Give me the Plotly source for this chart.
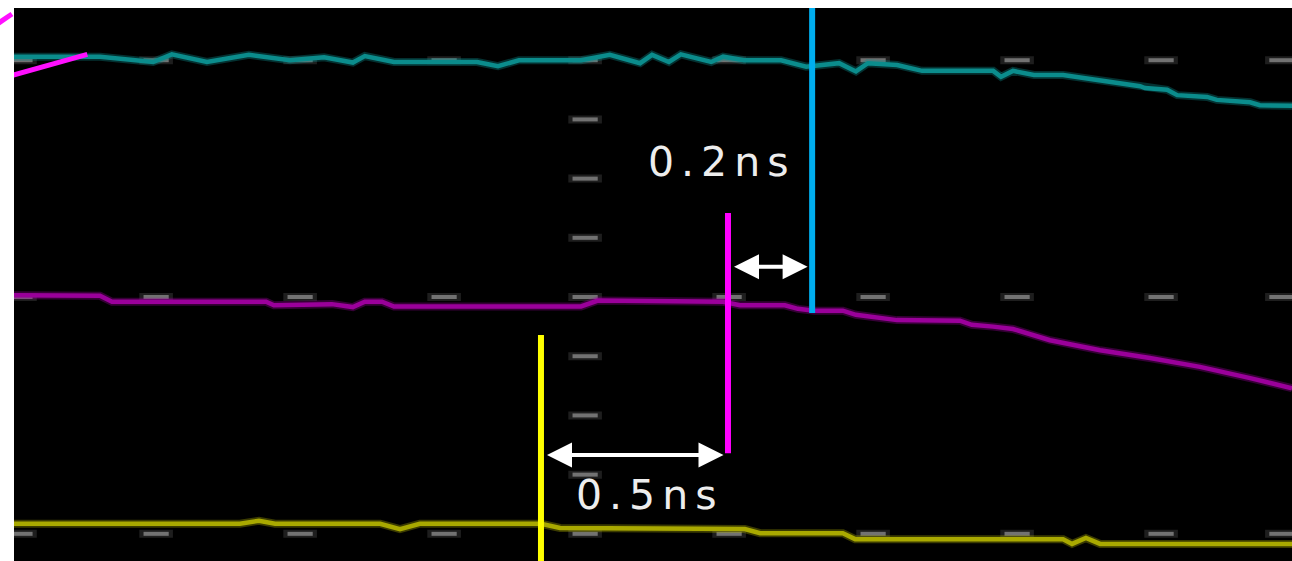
import plotly.graph_objects as go

# Horizontal axis: time in ns (0 = yellow cursor). Vertical axis: screen divisions.

# Channel 1 (teal) acquisition
t_ch1 = [-1.409, -1.179, -1.037, -0.987, -0.893, -0.781, -0.671, -0.580, -0.503, -0.471,
         -0.393, -0.171, -0.115, -0.059, 0.107, 0.184, 0.265, 0.297, 0.342, 0.374,
         0.455, 0.487, 0.543, 0.642, 0.709, 0.797, 0.842, 0.874, 0.952, 1.019,
         1.209, 1.230, 1.262, 1.318, 1.396, 1.484, 1.540, 1.602, 1.615, 1.674,
         1.701, 1.781, 1.807, 1.896, 1.922, 2.008]
v_ch1 = [4.06, 4.06, 3.97, 4.10, 3.97, 4.09, 4.00, 4.05, 3.96, 4.07,
         3.97, 3.97, 3.90, 4.00, 4.00, 4.09, 3.95, 4.09, 3.97, 4.10,
         3.97, 4.06, 4.00, 4.00, 3.89, 3.95, 3.81, 3.95, 3.92, 3.82,
         3.82, 3.72, 3.82, 3.75, 3.75, 3.67, 3.61, 3.56, 3.53, 3.50,
         3.41, 3.38, 3.33, 3.29, 3.24, 3.23]

# Channel 2 (purple) acquisition
t_ch2 = [-1.409, -1.179, -1.147, -0.735, -0.714, -0.559, -0.503, -0.471, -0.425, -0.393,
         0.107, 0.152, 0.487, 0.532, 0.652, 0.687, 0.730, 0.807, 0.842, 0.952,
         1.120, 1.152, 1.209, 1.262, 1.361, 1.495, 1.628, 1.762, 1.896, 2.008]
v_ch2 = [0.03, 0.02, -0.08, -0.08, -0.14, -0.12, -0.17, -0.08, -0.08, -0.16,
         -0.16, -0.06, -0.08, -0.14, -0.14, -0.20, -0.23, -0.23, -0.30, -0.39,
         -0.40, -0.47, -0.50, -0.54, -0.73, -0.90, -1.03, -1.18, -1.37, -1.54]

# Channel 3 (olive) acquisition
t_ch3 = [-1.409, -0.805, -0.754, -0.711, -0.430, -0.377, -0.324, 0.0, 0.051, 0.545,
         0.586, 0.807, 0.840, 1.396, 1.420, 1.457, 1.495, 2.008]
v_ch3 = [-3.83, -3.83, -3.78, -3.83, -3.83, -3.92, -3.83, -3.83, -3.90, -3.92,
         -3.99, -3.99, -4.09, -4.09, -4.17, -4.07, -4.17, -4.17]

# Bright magenta edge segment at the upper left
t_edge = [-1.50, -1.213]
v_edge = [3.59, 4.10]

# Cursor markers: time, top, bottom, colour
cursor_t = [0.0, 0.5, 0.725]
cursor_top = [-0.64, 1.42, 5.3]
cursor_bottom = [-5.0, -2.64, -0.27]
cursor_colors = ["#FFFF00", "#FF00FF", "#00AEEF"]

# Delta measurements: (from cursor, to cursor, arrow level, label x, label y)
delta_pairs = [(0, 1, -2.67, 0.291, -3.34), (1, 2, 0.51, 0.484, 2.28)]

# Graticule
grid_cols = [-1.393, -1.029, -0.644, -0.259, 0.118, 0.503, 0.888, 1.273, 1.658, 1.981]
grid_rows = [4, 0, -4]
center_col = 0.118
center_ticks = [3, 2, 1, -1, -2, -3]

x_range = [-1.409, 2.008]
y_range = [-4.459, 4.882]

fig = go.Figure()

gx, gy = [], []
for r in grid_rows:
    for c in grid_cols:
        gx.append(c)
        gy.append(r)
for r in center_ticks:
    gx.append(center_col)
    gy.append(r)

# soft halo + core for the graticule dashes
fig.add_trace(go.Scatter(
    x=gx, y=gy, mode="markers", hoverinfo="skip",
    marker=dict(symbol="line-ew", size=24,
                line=dict(width=8, color="rgba(120,120,120,0.25)")),
))
fig.add_trace(go.Scatter(
    x=gx, y=gy, mode="markers", hoverinfo="skip",
    marker=dict(symbol="line-ew", size=18,
                line=dict(width=4, color="rgba(150,150,150,0.7)")),
))

for t, v, col, halo in [(t_ch1, v_ch1, "#0B8C8C", "rgba(11,140,140,0.35)"),
                        (t_ch2, v_ch2, "#9A009A", "rgba(154,0,154,0.35)"),
                        (t_ch3, v_ch3, "#A9A900", "rgba(169,169,0,0.35)")]:
    fig.add_trace(go.Scatter(x=t, y=v, mode="lines", hoverinfo="skip",
                             line=dict(color=halo, width=8)))
    fig.add_trace(go.Scatter(x=t, y=v, mode="lines", hoverinfo="skip",
                             line=dict(color=col, width=4.5)))

fig.add_trace(go.Scatter(x=t_edge, y=v_edge, mode="lines", hoverinfo="skip",
                         line=dict(color="#FF10FF", width=5)))

for t, top, bot, col in zip(cursor_t, cursor_top, cursor_bottom, cursor_colors):
    fig.add_trace(go.Scatter(x=[t, t], y=[bot, top], mode="lines", hoverinfo="skip",
                             line=dict(color=col, width=6)))

for a, b, lvl, lx, ly in delta_pairs:
    t0, t1 = cursor_t[a], cursor_t[b]
    fig.add_annotation(
        x=t1 - 0.012, y=lvl, ax=t0 + 0.012, ay=lvl,
        xref="x", yref="y", axref="x", ayref="y",
        text="", showarrow=True, arrowside="end+start",
        arrowhead=2, startarrowhead=2, arrowsize=1.25, startarrowsize=1.25,
        arrowwidth=4, arrowcolor="white",
    )
    fig.add_annotation(
        x=lx, y=ly, xref="x", yref="y", showarrow=False,
        text='<span style="letter-spacing:7px">%.1fns</span>' % (t1 - t0),
        font=dict(family="DejaVu Sans", size=41, color="#EDEDED"),
    )

# small magenta fragment in the left margin
fig.add_shape(type="line", xref="paper", yref="paper",
              x0=-0.0125, y0=0.972, x1=-0.0016, y1=0.9892,
              line=dict(color="#FF10FF", width=5))

fig.update_xaxes(range=x_range, visible=False, showgrid=False, zeroline=False)
fig.update_yaxes(range=y_range, visible=False, showgrid=False, zeroline=False)
fig.update_layout(
    width=1292, height=561,
    margin=dict(l=14, r=0, t=8, b=0),
    paper_bgcolor="white", plot_bgcolor="black",
    showlegend=False,
)

fig.write_html("out.html")
